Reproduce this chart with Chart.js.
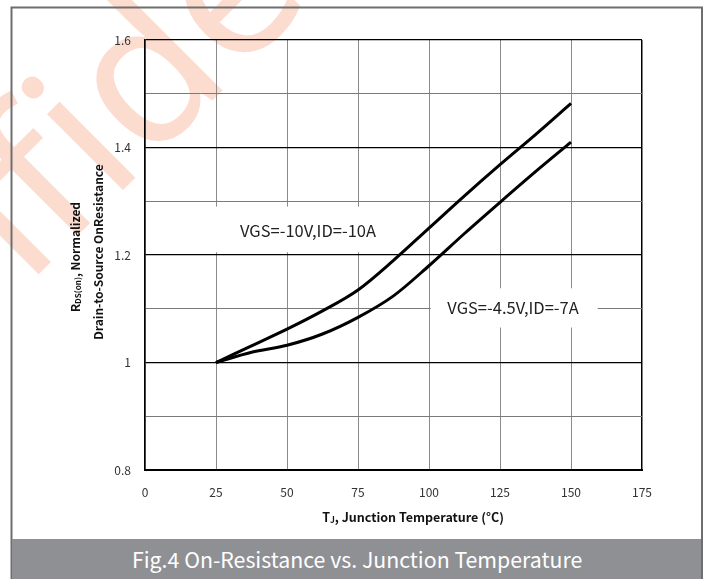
<!DOCTYPE html>
<html>
<head>
<meta charset="utf-8">
<script src="https://cdn.jsdelivr.net/npm/chart.js@4/dist/chart.umd.min.js"></script>
<style>
  html, body { margin: 0; padding: 0; background: #fff; }
  #wrap { position: relative; width: 711px; height: 579px; overflow: hidden; }
  #chart { position: absolute; left: 0; top: 0; }
  #banner {
    position: absolute; left: 12px; top: 539px; width: 689px; height: 40px;
    background: #8f9094; color: #fff;
    font-family: "Noto Sans CJK SC", "Noto Sans", sans-serif; font-size: 21.3px;
    line-height: 40px; padding-left: 120px; box-sizing: border-box;
  }
</style>
</head>
<body>
<div id="wrap">
  <canvas id="chart" width="711" height="579"></canvas>
  <div id="banner">Fig.4 On-Resistance vs. Junction Temperature</div>
</div>
<script>
// 데이터
const temps = [25, 37.5, 50, 62.5, 75, 87.5, 100, 112.5, 125, 137.5, 150];
const rds10V = [1.0, 1.031, 1.062, 1.096, 1.135, 1.19, 1.25, 1.31, 1.368, 1.424, 1.482];
const rds45V = [1.0, 1.019, 1.032, 1.053, 1.084, 1.124, 1.18, 1.24, 1.298, 1.355, 1.41];
const seriesNames = ['VGS=-10V,ID=-10A', 'VGS=-4.5V,ID=-7A'];
const xTicks = [0, 25, 50, 75, 100, 125, 150, 175];
const yTicks = ['0.8', '1', '1.2', '1.4', '1.6'];

const FONT = '"Noto Sans CJK SC", "Noto Sans", sans-serif';

// 라벨 위치 (데이터 좌표)
const labelSpots = [
  { x: 57.4, y: 1.2456, box: [20.5, 86, 1.29, 1.205] },
  { x: 129.6, y: 1.1024, box: [100.6, 159.4, 1.138, 1.065] }
];

// 배경: 워터마크 + 외곽 프레임
const backdrop = {
  id: 'backdrop',
  beforeDraw(chart) {
    const ctx = chart.ctx;
    ctx.save();
    ctx.fillStyle = '#fff';
    ctx.fillRect(0, 0, chart.width, chart.height);
    ctx.translate(-200, 513);
    ctx.rotate(-Math.PI / 4);
    ctx.fillStyle = '#fbdccf';
    ctx.font = '200px "Noto Sans", sans-serif';
    ctx.textBaseline = 'alphabetic';
    ctx.fillText('Confidential', 0, 0);
    ctx.restore();
    ctx.save();
    ctx.strokeStyle = '#6e6e6e';
    ctx.lineWidth = 2;
    ctx.strokeRect(11.5, 7.5, 690.5, 600);
    ctx.restore();
  }
};

// 라벨 박스와 글자
const seriesLabels = {
  id: 'seriesLabels',
  beforeDatasetsDraw(chart) {
    const ctx = chart.ctx, xs = chart.scales.x, ys = chart.scales.y;
    ctx.save();
    labelSpots.forEach((s, i) => {
      const x0 = xs.getPixelForValue(s.box[0]), x1 = xs.getPixelForValue(s.box[1]);
      const y0 = ys.getPixelForValue(s.box[2]), y1 = ys.getPixelForValue(s.box[3]);
      ctx.fillStyle = '#fff';
      ctx.fillRect(x0, y0, x1 - x0, y1 - y0);
      ctx.fillStyle = '#222';
      ctx.font = '16.5px ' + FONT;
      ctx.textAlign = 'center';
      ctx.textBaseline = 'middle';
      ctx.fillText(seriesNames[i], xs.getPixelForValue(s.x), ys.getPixelForValue(s.y));
    });
    ctx.restore();
  }
};

// 아래첨자가 있는 축 제목
function drawSubText(ctx, parts, cx, cy) {
  let total = 0;
  parts.forEach(p => { ctx.font = p.font; p.w = ctx.measureText(p.t).width; total += p.w; });
  let x = cx - total / 2;
  parts.forEach(p => {
    ctx.font = p.font;
    ctx.fillText(p.t, x, cy + (p.dy || 0));
    x += p.w;
  });
}

const axisTitles = {
  id: 'axisTitles',
  afterDraw(chart) {
    const ctx = chart.ctx;
    ctx.save();
    ctx.fillStyle = '#111';
    ctx.textAlign = 'left';
    ctx.textBaseline = 'middle';
    const b = 'bold 12px ' + FONT, sb = 'bold 8px ' + FONT;
    const bx = 'bold 12.5px ' + FONT, sbx = 'bold 8.5px ' + FONT;
    drawSubText(ctx, [
      { t: 'T', font: bx }, { t: 'J', font: sbx, dy: 3 },
      { t: ', Junction Temperature (°C)', font: bx }
    ], 413, 517);
    ctx.translate(75, 257);
    ctx.rotate(-Math.PI / 2);
    drawSubText(ctx, [
      { t: 'R', font: b }, { t: 'DS(on)', font: sb, dy: 3 },
      { t: ', Normalized', font: b }
    ], 0, 0);
    ctx.restore();
    ctx.save();
    ctx.fillStyle = '#111';
    ctx.textAlign = 'center';
    ctx.textBaseline = 'middle';
    ctx.font = b;
    ctx.translate(98, 252);
    ctx.rotate(-Math.PI / 2);
    ctx.fillText('Drain-to-Source OnResistance', 0, 0);
    ctx.restore();
  }
};

const mk = arr => temps.map((t, i) => ({ x: t, y: arr[i] }));

new Chart(document.getElementById('chart'), {
  type: 'line',
  data: {
    datasets: [
      { label: seriesNames[0], data: mk(rds10V) },
      { label: seriesNames[1], data: mk(rds45V) }
    ].map(d => Object.assign(d, {
      borderColor: '#000', borderWidth: 3, pointRadius: 0,
      cubicInterpolationMode: 'monotone', fill: false
    }))
  },
  options: {
    responsive: false,
    animation: false,
    layout: { padding: { left: 0, top: 40, right: 69, bottom: 0 } },
    plugins: { legend: { display: false }, tooltip: { enabled: false } },
    scales: {
      x: {
        type: 'linear', min: 0, max: 175,
        afterFit(s) { s.height = 109; },
        afterBuildTicks(s) { s.ticks = xTicks.map(v => ({ value: v })); },
        ticks: { padding: 15, color: '#333', font: { family: FONT, size: 12 } },
        grid: {
          drawTicks: false,
          color: c => c.tick && c.tick.value === 175 ? '#000' : '#8a8a8a',
          lineWidth: c => c.tick && c.tick.value === 175 ? 1.5 : 1
        },
        border: { color: '#000', width: 2 }
      },
      y: {
        type: 'linear', min: 0.8, max: 1.6,
        afterFit(s) { s.width = 145; },
        ticks: {
          stepSize: 0.1, padding: 14, color: '#333', font: { family: FONT, size: 12 },
          callback: v => {
            const s = String(+v.toFixed(1));
            return yTicks.includes(s) ? s : '';
          }
        },
        grid: {
          drawTicks: false,
          color: c => Math.round(c.tick.value * 10) % 2 === 0 ? '#000' : '#7a7a7a',
          lineWidth: c => Math.round(c.tick.value * 10) % 2 === 0 ? 1.3 : 1
        },
        border: { color: '#000', width: 1.5 }
      }
    }
  },
  plugins: [backdrop, seriesLabels, axisTitles]
});
</script>
</body>
</html>
